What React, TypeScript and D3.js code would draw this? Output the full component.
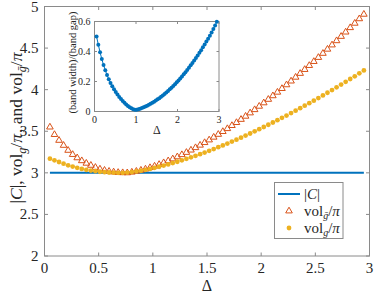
import React from 'react';
import * as d3 from 'd3';

const delta = [
  0.05, 0.092, 0.134, 0.176, 0.218, 0.26, 0.302, 0.344, 0.386, 0.428,
  0.47, 0.512, 0.554, 0.596, 0.638, 0.68, 0.722, 0.764, 0.806, 0.848,
  0.89, 0.932, 0.974, 1.016, 1.058, 1.1, 1.142, 1.184, 1.226, 1.268,
  1.31, 1.352, 1.394, 1.436, 1.478, 1.52, 1.562, 1.604, 1.646, 1.688,
  1.73, 1.772, 1.814, 1.856, 1.898, 1.94, 1.982, 2.024, 2.066, 2.108,
  2.15, 2.192, 2.234, 2.276, 2.318, 2.36, 2.402, 2.444, 2.486, 2.528,
  2.57, 2.612, 2.654, 2.696, 2.738, 2.78, 2.822, 2.864, 2.906, 2.948,
];

// vol_gbar / pi (triangles)
const volGbar = [
  3.55, 3.46, 3.39, 3.33, 3.27, 3.22, 3.18, 3.145, 3.115, 3.09,
  3.065, 3.045, 3.03, 3.018, 3.01, 3.004, 3.001, 3.0, 3.008, 3.018,
  3.031, 3.045, 3.062, 3.08, 3.1, 3.121, 3.144, 3.167, 3.192, 3.218,
  3.245, 3.273, 3.302, 3.332, 3.363, 3.395, 3.428, 3.462, 3.496, 3.531,
  3.568, 3.604, 3.642, 3.68, 3.72, 3.759, 3.8, 3.841, 3.883, 3.926,
  3.969, 4.013, 4.058, 4.103, 4.149, 4.195, 4.242, 4.29, 4.338, 4.387,
  4.436, 4.486, 4.537, 4.588, 4.64, 4.692, 4.745, 4.798, 4.852, 4.906,
];

// vol_g / pi (dots)
const volG = [
  3.17, 3.15, 3.13, 3.11, 3.09, 3.075, 3.06, 3.047, 3.036, 3.027,
  3.02, 3.013, 3.008, 3.004, 3.002, 3.0, 3.0, 3.003, 3.009, 3.017,
  3.026, 3.036, 3.047, 3.06, 3.073, 3.087, 3.101, 3.117, 3.133, 3.15,
  3.168, 3.186, 3.205, 3.224, 3.244, 3.265, 3.286, 3.308, 3.33, 3.352,
  3.376, 3.399, 3.423, 3.448, 3.473, 3.499, 3.525, 3.551, 3.578, 3.605,
  3.633, 3.661, 3.689, 3.718, 3.747, 3.777, 3.807, 3.838, 3.868, 3.899,
  3.931, 3.963, 3.995, 4.028, 4.061, 4.094, 4.128, 4.161, 4.196, 4.231,
];

// inset: (band width)/(band gap)
const ratio = [
  0.5, 0.445, 0.395, 0.35, 0.31, 0.275, 0.243, 0.215, 0.19, 0.168,
  0.148, 0.13, 0.113, 0.097, 0.083, 0.07, 0.058, 0.047, 0.037, 0.028,
  0.021, 0.015, 0.011, 0.011, 0.015, 0.019, 0.023, 0.028, 0.033, 0.039,
  0.045, 0.051, 0.058, 0.065, 0.073, 0.081, 0.089, 0.098, 0.107, 0.117,
  0.126, 0.137, 0.148, 0.159, 0.17, 0.182, 0.195, 0.207, 0.22, 0.234,
  0.248, 0.262, 0.277, 0.292, 0.308, 0.324, 0.34, 0.357, 0.374, 0.391,
  0.409, 0.428, 0.447, 0.466, 0.485, 0.505, 0.526, 0.55, 0.574, 0.598,
];

const chernAbs = 3;

const xTicks = [0, 0.5, 1, 1.5, 2, 2.5, 3];
const yTicks = [2, 2.5, 3, 3.5, 4, 4.5, 5];
const insetXTicks = [0, 1, 2, 3];
const insetYTicks = [0, 0.2, 0.4, 0.6];

const BLUE = '#0072BD';
const ORANGE = '#D95319';
const YELLOW = '#EDB120';
const AXIS = '#8a8a8a';
const TEXT = '#262626';
const SERIF = "'Liberation Serif', 'DejaVu Serif', serif";

export default function App() {
  const W = 374;
  const H = 293;
  const plot = { left: 44.5, right: 369.5, top: 6.5, bottom: 256 };
  const x = d3.scaleLinear().domain([0, 3]).range([plot.left, plot.right]);
  const y = d3.scaleLinear().domain([2, 5]).range([plot.bottom, plot.top]);

  const inset = { left: 94.5, right: 219, top: 21.5, bottom: 111.5 };
  const ix = d3.scaleLinear().domain([0, 3]).range([inset.left, inset.right]);
  const iy = d3.scaleLinear().domain([0, 0.6]).range([inset.bottom, inset.top]);

  const fmt = (v: number) => String(v);
  const tri = d3.symbol().type(d3.symbolTriangle).size(19);
  const insetLine = d3
    .line<number>()
    .x((_, i) => ix(delta[i]))
    .y((d) => iy(d));

  const tickLen = 3.5;

  return (
    <svg
      width={W}
      height={H}
      style={{ position: 'absolute', left: 0, top: 0, background: '#fff', fontFamily: SERIF }}
    >
      <rect width={W} height={H} fill="#fff" />

      {/* main axes box */}
      <rect
        x={plot.left}
        y={plot.top}
        width={plot.right - plot.left}
        height={plot.bottom - plot.top}
        fill="none"
        stroke={AXIS}
        strokeWidth={1}
      />
      {xTicks.map((t) => (
        <g key={'xt' + t}>
          <line x1={x(t)} x2={x(t)} y1={plot.bottom} y2={plot.bottom - tickLen} stroke={AXIS} />
          <line x1={x(t)} x2={x(t)} y1={plot.top} y2={plot.top + tickLen} stroke={AXIS} />
          <text x={x(t)} y={plot.bottom + 17} textAnchor="middle" fontSize={15} fill={TEXT}>
            {fmt(t)}
          </text>
        </g>
      ))}
      {yTicks.map((t) => (
        <g key={'yt' + t}>
          <line x1={plot.left} x2={plot.left + tickLen} y1={y(t)} y2={y(t)} stroke={AXIS} />
          <line x1={plot.right} x2={plot.right - tickLen} y1={y(t)} y2={y(t)} stroke={AXIS} />
          <text x={plot.left - 6} y={y(t) + 5} textAnchor="end" fontSize={15} fill={TEXT}>
            {fmt(t)}
          </text>
        </g>
      ))}
      <text x={(plot.left + plot.right) / 2} y={291} textAnchor="middle" fontSize={16} fill={TEXT}>
        Δ
      </text>
      <text
        transform={`translate(22,128) rotate(-90)`}
        textAnchor="middle"
        fontSize={17.5}
        fill={TEXT}
      >
        <tspan>|</tspan>
        <tspan fontStyle="italic">C</tspan>
        <tspan>{'|, vol'}</tspan>
        <tspan fontSize={12} fontStyle="italic" dy={4}>g</tspan>
        <tspan dy={-4}>/</tspan>
        <tspan fontStyle="italic">π</tspan>
        <tspan dx={1}>{', and vol'}</tspan>
        <tspan fontSize={12} fontStyle="italic" dy={4}>{'g\u0304'}</tspan>
        <tspan dy={-4}>/</tspan>
        <tspan fontStyle="italic">π</tspan>
      </text>

      {/* |C| line */}
      <line
        x1={x(delta[0])}
        x2={x(delta[delta.length - 1])}
        y1={y(chernAbs)}
        y2={y(chernAbs)}
        stroke={BLUE}
        strokeWidth={2}
      />
      {/* vol_gbar triangles */}
      {volGbar.map((v, i) => (
        <path
          key={'tr' + i}
          d={tri() || ''}
          transform={`translate(${x(delta[i])},${y(v)})`}
          fill="none"
          stroke={ORANGE}
          strokeWidth={1}
        />
      ))}
      {/* vol_g dots */}
      {volG.map((v, i) => (
        <circle key={'dt' + i} cx={x(delta[i])} cy={y(v)} r={2.4} fill={YELLOW} />
      ))}

      {/* inset */}
      <rect
        x={inset.left}
        y={inset.top}
        width={inset.right - inset.left}
        height={inset.bottom - inset.top}
        fill="#fff"
        stroke={AXIS}
        strokeWidth={1}
      />
      {insetXTicks.map((t) => (
        <g key={'ixt' + t}>
          <line x1={ix(t)} x2={ix(t)} y1={inset.bottom} y2={inset.bottom - 2.5} stroke={AXIS} />
          <line x1={ix(t)} x2={ix(t)} y1={inset.top} y2={inset.top + 2.5} stroke={AXIS} />
          <text x={ix(t)} y={inset.bottom + 11} textAnchor="middle" fontSize={10} fill={TEXT}>
            {fmt(t)}
          </text>
        </g>
      ))}
      {insetYTicks.map((t) => (
        <g key={'iyt' + t}>
          <line x1={inset.left} x2={inset.left + 2.5} y1={iy(t)} y2={iy(t)} stroke={AXIS} />
          <line x1={inset.right} x2={inset.right - 2.5} y1={iy(t)} y2={iy(t)} stroke={AXIS} />
          <text x={inset.left - 4} y={iy(t) + 3.5} textAnchor="end" fontSize={10} fill={TEXT}>
            {fmt(t)}
          </text>
        </g>
      ))}
      <text x={(inset.left + inset.right) / 2} y={134} textAnchor="middle" fontSize={12} fill={TEXT}>
        Δ
      </text>
      <text
        transform={`translate(76,${(inset.top + inset.bottom) / 2 - 4}) rotate(-90)`}
        textAnchor="middle"
        fontSize={10.5}
        fill={TEXT}
      >
        (band width)/(band gap)
      </text>
      <path d={insetLine(ratio) || ''} fill="none" stroke={BLUE} strokeWidth={1} />
      {ratio.map((v, i) => (
        <circle key={'in' + i} cx={ix(delta[i])} cy={iy(v)} r={2} fill={BLUE} />
      ))}

      {/* legend */}
      <g>
        <rect x={274.5} y={182.5} width={68.5} height={56} fill="#fff" stroke={AXIS} strokeWidth={1} />
        <line x1={278} x2={300} y1={194} y2={194} stroke={BLUE} strokeWidth={2} />
        <text x={304} y={199} fontSize={15} fill={TEXT}>
          <tspan>|</tspan>
          <tspan fontStyle="italic">C</tspan>
          <tspan>|</tspan>
        </text>
        <path d={tri() || ''} transform="translate(289,211)" fill="none" stroke={ORANGE} strokeWidth={1} />
        <text x={304} y={216} fontSize={15} fill={TEXT}>
          <tspan>vol</tspan>
          <tspan fontSize={10} fontStyle="italic" dy={3}>{'g\u0304'}</tspan>
          <tspan dy={-3}>/</tspan>
          <tspan fontStyle="italic">π</tspan>
        </text>
        <circle cx={289} cy={228} r={2.4} fill={YELLOW} />
        <text x={304} y={233} fontSize={15} fill={TEXT}>
          <tspan>vol</tspan>
          <tspan fontSize={10} fontStyle="italic" dy={3}>g</tspan>
          <tspan dy={-3}>/</tspan>
          <tspan fontStyle="italic">π</tspan>
        </text>
      </g>
    </svg>
  );
}
